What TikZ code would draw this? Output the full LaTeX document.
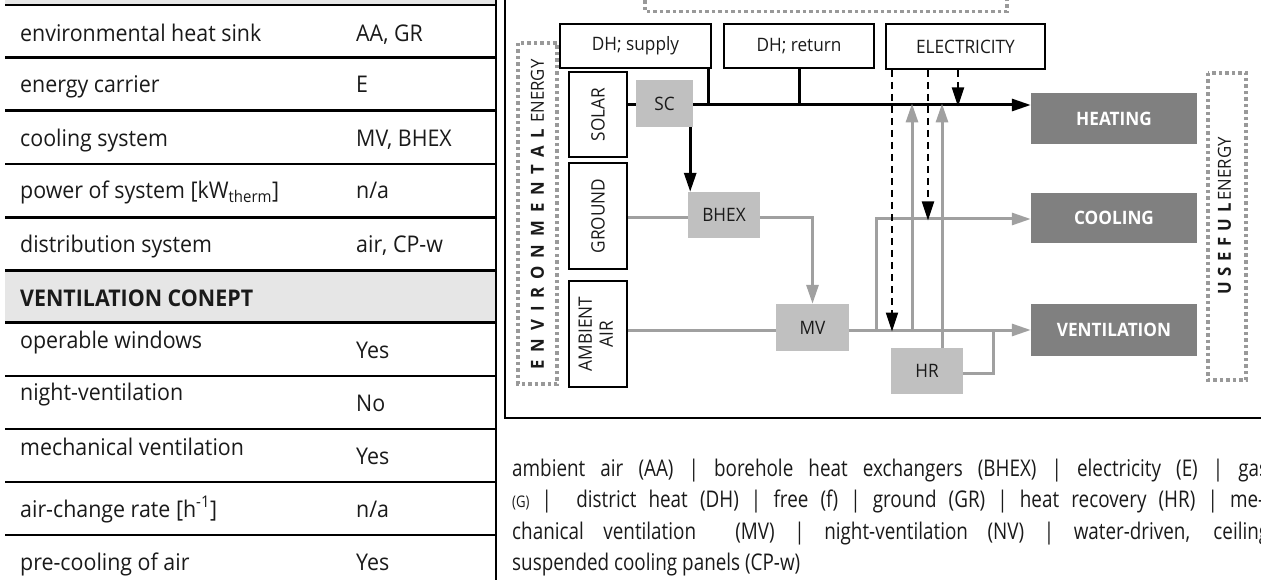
\documentclass[tikz,border=0pt]{standalone}
\usepackage{fontspec}
\setmainfont{Open Sans}[FakeStretch=0.93]
\newfontfamily\legfont{Open Sans}[FakeStretch=0.82]
\usetikzlibrary{arrows.meta}
\definecolor{hdrgray}{HTML}{E6E6E6}
\definecolor{boxgray}{HTML}{C0C0C0}
\definecolor{linegray}{HTML}{A0A0A0}
\definecolor{darkbox}{HTML}{808080}
\definecolor{dotgray}{HTML}{999999}
\definecolor{txt}{HTML}{1A1A1A}
\newcommand{\lsp}[2]{{\bfseries\addfontfeature{LetterSpace=#1}#2}}
\begin{document}
\begin{tikzpicture}[x=1pt,y=-1pt,
  tline/.style={line width=2.5pt, black},
  tcell/.style={anchor=base west, inner sep=0pt, text=txt, font=\fontsize{23}{27}\selectfont},
  tbold/.style={tcell, font=\fontsize{23}{27}\selectfont\bfseries},
  wbox/.style={draw=black, line width=2pt, fill=white, inner sep=0pt, text=txt, font=\fontsize{18.5}{22}\selectfont},
  gbox/.style={fill=boxgray, inner sep=0pt, text=txt, font=\fontsize{18.5}{22}\selectfont},
  dbox/.style={fill=darkbox, inner sep=0pt, text=white, font=\fontsize{18.5}{22}\selectfont\bfseries},
  dotbox/.style={draw=dotgray, line width=3.5pt, dash pattern=on 3.5pt off 3pt},
  bl/.style={line width=3pt, black},
  gl/.style={line width=3pt, linegray},
  dl/.style={line width=2pt, black, dash pattern=on 7pt off 5pt},
  tip/.style={-{Triangle[length=19pt,width=12pt]}},
  legline/.style={anchor=base west, inner sep=0pt, text=txt, font=\legfont\fontsize{23}{27}\selectfont}
]
\useasboundingbox (0,0) rectangle (1261,580);

% ---------- table ----------
\fill[hdrgray] (5,-5) rectangle (496,5);
\fill[hdrgray] (5,270) rectangle (496,322);
\foreach \yy in {5,57.3,110.7,164,217.3,270.3,322.3,376,429,482,535}
  \draw[tline] (5,\yy) -- (496,\yy);
\draw[tline] (496,-5) -- (496,585);

\node[tcell] (r1a) at (20,41.7) {environmental heat sink};
\node[tcell] (r1b) at (356,41.7) {AA, GR};
\node[tcell] (r2a) at (20,93) {energy carrier};
\node[tcell] (r2b) at (356,93) {E};
\node[tcell] (r3a) at (20,146.7) {cooling system};
\node[tcell] (r3b) at (356,146.7) {MV, BHEX};
\node[tcell] (r4a) at (20,199) {power of system [kW\textsubscript{therm}]};
\node[tcell] (r4b) at (356,199) {n/a};
\node[tcell] (r5a) at (20,252) {distribution system};
\node[tcell] (r5b) at (356,252) {air, CP-w};
\node[tbold] (hdr) at (20,306) {VENTILATION CONEPT};
\node[tcell] (r6a) at (20,348) {operable windows};
\node[tcell] (r6b) at (356,358.5) {Yes};
\node[tcell] (r7a) at (20,400.7) {night-ventilation};
\node[tcell] (r7b) at (356,411.7) {No};
\node[tcell] (r8a) at (20,455) {mechanical ventilation};
\node[tcell] (r8b) at (356,464) {Yes};
\node[tcell] (r9a) at (20,517) {air-change rate [h\textsuperscript{-1}]};
\node[tcell] (r9b) at (356,517) {n/a};
\node[tcell] (r10a) at (20,570.7) {pre-cooling of air};
\node[tcell] (r10b) at (356,570.7) {Yes};

% ---------- diagram frame ----------
\draw[tline] (505,-5) -- (505,418) -- (1266,418);

% dotted group boxes
\draw[dotbox] (645,-6) -- (645,11.7) -- (1007,11.7) -- (1007,-6);
\draw[dotbox] (518,43) rectangle (557,384);
\draw[dotbox] (1208,73) rectangle (1246,380);
\node[inner sep=0pt, text=txt, font=\fontsize{18}{20}\selectfont] (envtxt) at (537.5,214.5)
  {\rotatebox{90}{\lsp{44}{ENVIRONMENTAL}\hspace{6pt}ENERGY}};
\node[inner sep=0pt, text=txt, font=\fontsize{18}{20}\selectfont] (usetxt) at (1224.5,216)
  {\rotatebox{90}{\lsp{32}{USEFUL}\hspace{3pt}ENERGY}};

% sources
\node[wbox, minimum width=151pt, minimum height=44pt] (dhs) at (635.5,46) {DH; supply};
\node[wbox, minimum width=150pt, minimum height=44pt] (dhr) at (799,46) {DH; return};
\node[wbox, minimum width=159pt, minimum height=45pt] (elec) at (965.5,46.5) {ELECTRICITY};
\node[wbox, minimum width=58pt, minimum height=85pt] (solar) at (598,114.5) {\rotatebox{90}{SOLAR}};
\node[wbox, minimum width=58pt, minimum height=106pt] (ground) at (598,216) {\rotatebox{90}{GROUND}};
\node[wbox, minimum width=58pt, minimum height=106pt] (amb) at (598,334)
  {\rotatebox{90}{\begin{tabular}{@{}c@{}}AMBIENT\\[-1pt]AIR\end{tabular}}};

% converters
\node[gbox, minimum width=57pt, minimum height=47pt] (sc) at (664.5,103.5) {SC};
\node[gbox, minimum width=72pt, minimum height=46pt] (bhex) at (724,215) {BHEX};
\node[gbox, minimum width=73pt, minimum height=47pt] (mv) at (812.5,327.5) {MV};
\node[gbox, minimum width=72pt, minimum height=46pt] (hr) at (927,371) {HR};

% outputs
\node[dbox, minimum width=166pt, minimum height=51pt] (heat) at (1114,118.5) {HEATING};
\node[dbox, minimum width=166pt, minimum height=50pt] (cool) at (1114,218) {COOLING};
\node[dbox, minimum width=166pt, minimum height=52pt] (vent) at (1114,330) {VENTILATION};

% helper coordinates
\coordinate (hy) at (0,105);
\coordinate (gy) at (0,218);
\coordinate (cy) at (0,219);
\coordinate (vy) at (0,330);
\coordinate (jx) at (876,0);
\coordinate (ux) at (912,0);
\coordinate (wx) at (942,0);
\coordinate (rx) at (993,0);
\coordinate (e1) at (892,0);
\coordinate (e2) at (928,0);
\coordinate (e3) at (958,0);

% heating (black)
\draw[bl] (solar.east |- hy) -- (sc.west |- hy);
\draw[bl, tip] (sc.east |- hy) -- (heat.west |- hy);
\draw[bl] ([xshift=-4pt]dhs.south east) -- ([xshift=-4pt]dhs.south east |- hy);
\draw[bl] (dhr.south) -- (dhr.south |- hy);
\draw[bl, tip] ([xshift=-3pt]sc.south east) -- ([xshift=-3pt]sc.south east |- bhex.north);

% gray lines
\draw[gl] (ground.east |- gy) -- (bhex.west |- gy);
\draw[gl, tip] (bhex.east |- gy) -- (mv.north |- gy) -- (mv.north);
\draw[gl] (amb.east |- vy) -- (mv.west |- vy);
\draw[gl, tip] (mv.east |- vy) -- (vent.west |- vy);
\draw[gl, tip] (jx |- vy) -- (jx |- cy) -- (cool.west |- cy);
\draw[gl, tip] (ux |- vy) -- ([yshift=1.5pt]ux |- hy);
\draw[gl, tip] (wx |- hr.north) -- ([yshift=1.5pt]wx |- hy);
\draw[gl] (hr.east |- 0,373) -- (rx |- 0,373) -- (rx |- vy);

% electricity (dashed)
\draw[dl, tip] (e1 |- elec.south) -- ([yshift=-1.5pt]e1 |- vy);
\draw[dl, tip] (e2 |- elec.south) -- ([yshift=-1.5pt]e2 |- cy);
\draw[dl, tip] (e3 |- elec.south) -- ([yshift=-1.5pt]e3 |- hy);

% ---------- legend ----------
\node[legline] (lg1) at (512,476) {\makebox[756pt][s]{ambient air (AA) | borehole heat exchangers (BHEX) | electricity (E) | gas}};
\node[legline] (lg2) at (512,507.5) {\makebox[752pt][s]{{\fontsize{16}{18}\selectfont(G)} |\ \ district heat (DH) | free (f) | ground (GR) | heat recovery (HR) | me-}};
\node[legline] (lg3) at (512,539) {\makebox[757pt][s]{chanical ventilation\ \ (MV) | night-ventilation (NV) | water-driven, ceiling}};
\node[legline] (lg4) at (512,570.5) {suspended cooling panels (CP-w)};
\end{tikzpicture}
\end{document}
